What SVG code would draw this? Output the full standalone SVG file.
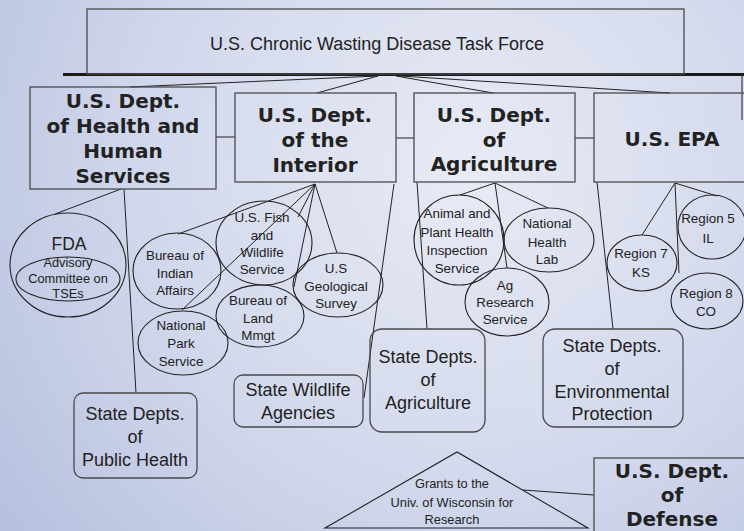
<svg xmlns="http://www.w3.org/2000/svg" width="744" height="531" viewBox="0 0 744 531">
<defs>
<radialGradient id="bg" cx="470" cy="170" r="640" gradientUnits="userSpaceOnUse">
<stop offset="0" stop-color="#e8ebf5"/>
<stop offset="0.5" stop-color="#d2d8ec"/>
<stop offset="1" stop-color="#b2bbdc"/>
</radialGradient>
<style>
.box{fill:none;stroke:#4a4a4a;stroke-width:1.3}
.ov{fill:none;stroke:#222;stroke-width:1.1}
.ln{fill:none;stroke:#222;stroke-width:1}
.dept{font-family:"DejaVu Sans",Verdana,sans-serif;font-weight:bold;font-size:20px;fill:#222;text-anchor:middle}
.t18{font-family:"Liberation Sans",Arial,sans-serif;font-size:18px;fill:#222;text-anchor:middle}
.t13{font-family:"Liberation Sans",Arial,sans-serif;font-size:13.4px;fill:#222;text-anchor:middle}
.t12{font-family:"Liberation Sans",Arial,sans-serif;font-size:12.8px;fill:#222;text-anchor:middle}
</style>
</defs>
<rect x="0" y="0" width="744" height="531" fill="url(#bg)"/>

<g id="connectors">
<line x1="63" y1="74.5" x2="744" y2="74.5" stroke="#1a1a1a" stroke-width="3"/>
<line class="ln" x1="742" y1="74" x2="742" y2="120"/>
<line class="ln" x1="378" y1="76" x2="130" y2="87"/>
<line class="ln" x1="378" y1="76" x2="317" y2="93"/>
<line class="ln" x1="396" y1="76" x2="493" y2="93"/>
<line class="ln" x1="400" y1="76" x2="670" y2="93"/>
<line class="ln" x1="216" y1="137" x2="235" y2="137"/>
<line class="ln" x1="396" y1="138" x2="414" y2="138"/>
<line class="ln" x1="575" y1="138" x2="594" y2="138"/>
<line class="ln" x1="121" y1="189" x2="55" y2="214"/>
<line class="ln" x1="124" y1="189" x2="136" y2="393"/>
<line class="ln" x1="315" y1="184" x2="178" y2="234"/>
<line class="ln" x1="315" y1="184" x2="182" y2="310"/>
<line class="ln" x1="315" y1="184" x2="298" y2="217"/>
<line class="ln" x1="315" y1="184" x2="294" y2="287"/>
<line class="ln" x1="315" y1="184" x2="337" y2="253"/>
<line class="ln" x1="394" y1="184" x2="364" y2="398"/>
<line class="ln" x1="417" y1="182" x2="427" y2="329"/>
<line class="ln" x1="495" y1="183" x2="460" y2="195"/>
<line class="ln" x1="495" y1="183" x2="548" y2="208"/>
<line class="ln" x1="495" y1="183" x2="507" y2="268"/>
<line class="ln" x1="597" y1="182" x2="613" y2="329"/>
<line class="ln" x1="675" y1="183" x2="642" y2="235"/>
<line class="ln" x1="675" y1="183" x2="717" y2="196"/>
<line class="ln" x1="675" y1="183" x2="679" y2="273"/>
<line class="ln" x1="523" y1="490" x2="594" y2="495"/>
</g>

<g id="task-force">
<rect class="box" x="87" y="9" width="597" height="65"/>
<text class="t18" x="377" y="50">U.S. Chronic Wasting Disease Task Force</text>
</g>

<g id="hhs">
<rect class="box" x="30" y="87" width="186" height="102"/>
<text class="dept" x="123" y="108">U.S. Dept.</text>
<text class="dept" x="123" y="133">of Health and</text>
<text class="dept" x="123" y="158">Human</text>
<text class="dept" x="123" y="183">Services</text>
</g>

<g id="interior">
<rect class="box" x="235" y="93" width="161" height="89"/>
<text class="dept" x="315" y="122">U.S. Dept.</text>
<text class="dept" x="315" y="147">of the</text>
<text class="dept" x="315" y="172">Interior</text>
</g>

<g id="agriculture">
<rect class="box" x="414" y="93" width="161" height="89"/>
<text class="dept" x="494" y="122">U.S. Dept.</text>
<text class="dept" x="494" y="147">of</text>
<text class="dept" x="494" y="171">Agriculture</text>
</g>

<g id="epa">
<rect class="box" x="594" y="93" width="160" height="89"/>
<text class="dept" x="672" y="146">U.S. EPA</text>
</g>

<g id="fda">
<ellipse class="ov" cx="68" cy="265" rx="58" ry="52"/>
<text class="t18" x="69" y="250" style="font-size:17.5px">FDA</text>
</g>

<g id="advisory">
<ellipse class="ov" cx="68" cy="279" rx="52" ry="22"/>
<text class="t12" x="68" y="267">Advisory</text>
<text class="t12" x="68" y="283">Committee on</text>
<text class="t12" x="68" y="298">TSEs</text>
</g>

<g id="bia">
<ellipse class="ov" cx="177" cy="271" rx="44" ry="38"/>
<text class="t13" x="175" y="260">Bureau of</text>
<text class="t13" x="175" y="278">Indian</text>
<text class="t13" x="175" y="295">Affairs</text>
</g>

<g id="fws">
<ellipse class="ov" cx="264" cy="243" rx="48" ry="42"/>
<text class="t13" x="262" y="222">U.S. Fish</text>
<text class="t13" x="262" y="240">and</text>
<text class="t13" x="262" y="257">Wildlife</text>
<text class="t13" x="262" y="274">Service</text>
</g>

<g id="usgs">
<ellipse class="ov" cx="338" cy="285" rx="45" ry="32"/>
<text class="t13" x="336" y="273">U.S</text>
<text class="t13" x="336" y="291">Geological</text>
<text class="t13" x="336" y="308">Survey</text>
</g>

<g id="blm">
<ellipse class="ov" cx="260" cy="316" rx="44" ry="31"/>
<text class="t13" x="258" y="305">Bureau of</text>
<text class="t13" x="258" y="323">Land</text>
<text class="t13" x="258" y="340">Mmgt</text>
</g>

<g id="nps">
<ellipse class="ov" cx="183" cy="343" rx="45" ry="32"/>
<text class="t13" x="181" y="330">National</text>
<text class="t13" x="181" y="348">Park</text>
<text class="t13" x="181" y="366">Service</text>
</g>

<g id="aphis">
<ellipse class="ov" cx="459" cy="240" rx="45" ry="45"/>
<text class="t13" x="457" y="218">Animal and</text>
<text class="t13" x="457" y="237">Plant Health</text>
<text class="t13" x="457" y="255">Inspection</text>
<text class="t13" x="457" y="273">Service</text>
</g>

<g id="nhl">
<ellipse class="ov" cx="549" cy="240" rx="45" ry="32"/>
<text class="t13" x="547" y="228">National</text>
<text class="t13" x="547" y="247">Health</text>
<text class="t13" x="547" y="264">Lab</text>
</g>

<g id="ars">
<ellipse class="ov" cx="507" cy="302" rx="42" ry="34"/>
<text class="t13" x="505" y="290">Ag</text>
<text class="t13" x="505" y="307">Research</text>
<text class="t13" x="505" y="324">Service</text>
</g>

<g id="region5">
<ellipse class="ov" cx="712" cy="227" rx="34" ry="32"/>
<text class="t13" x="708" y="223">Region 5</text>
<text class="t13" x="708" y="243">IL</text>
</g>

<g id="region7">
<ellipse class="ov" cx="642" cy="263" rx="35" ry="28"/>
<text class="t13" x="641" y="258">Region 7</text>
<text class="t13" x="641" y="277">KS</text>
</g>

<g id="region8">
<ellipse class="ov" cx="707" cy="301" rx="36" ry="28"/>
<text class="t13" x="706" y="298">Region 8</text>
<text class="t13" x="706" y="316">CO</text>
</g>

<g id="state-public-health">
<rect class="box" x="74" y="393" width="123" height="85" rx="9"/>
<text class="t18" x="135" y="420">State Depts.</text>
<text class="t18" x="135" y="443">of</text>
<text class="t18" x="135" y="466">Public Health</text>
</g>

<g id="state-wildlife">
<rect class="box" x="234" y="375" width="129" height="52" rx="9"/>
<text class="t18" x="298" y="396">State Wildlife</text>
<text class="t18" x="298" y="419">Agencies</text>
</g>

<g id="state-agriculture">
<rect class="box" x="370" y="329" width="115" height="103" rx="12"/>
<text class="t18" x="428" y="363">State Depts.</text>
<text class="t18" x="428" y="386">of</text>
<text class="t18" x="428" y="409">Agriculture</text>
</g>

<g id="state-env">
<rect class="box" x="543" y="329" width="140" height="98" rx="12"/>
<text class="t18" x="612" y="352">State Depts.</text>
<text class="t18" x="612" y="375">of</text>
<text class="t18" x="612" y="398">Environmental</text>
<text class="t18" x="612" y="420">Protection</text>
</g>

<g id="grants">
<polygon class="ov" points="325,528 457,452 588,528"/>
<text class="t12" x="452" y="488">Grants to  the</text>
<text class="t12" x="452" y="507">Univ. of Wisconsin for</text>
<text class="t12" x="452" y="524">Research</text>
</g>

<g id="dod">
<rect class="box" x="594" y="458" width="160" height="90"/>
<text class="dept" x="672" y="478">U.S. Dept.</text>
<text class="dept" x="672" y="502">of</text>
<text class="dept" x="672" y="526">Defense</text>
</g>
</svg>
